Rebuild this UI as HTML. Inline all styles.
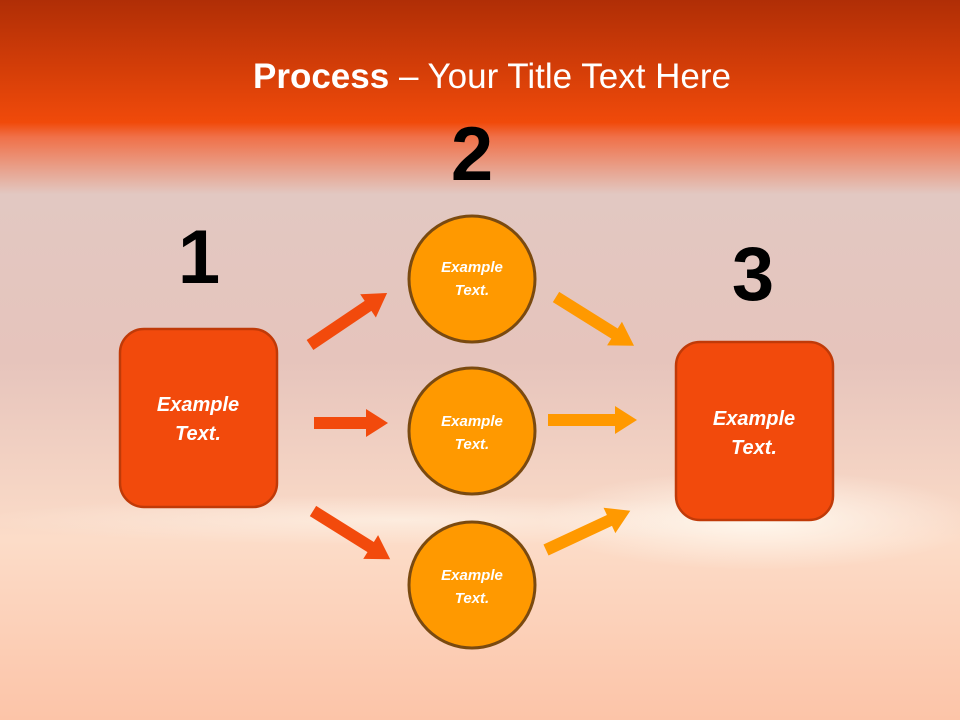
<!DOCTYPE html>
<html><head><style>body{margin:0}svg{display:block}</style></head><body>
<svg width="960" height="720" viewBox="0 0 960 720" xmlns="http://www.w3.org/2000/svg" font-family="Liberation Sans, sans-serif">
<defs>
<linearGradient id="bg" x1="0" y1="0" x2="0" y2="1">
<stop offset="0" stop-color="#b02e06"/>
<stop offset="0.17" stop-color="#f04a0a"/>
<stop offset="0.19" stop-color="#f07048"/>
<stop offset="0.27" stop-color="#e2c8c2"/>
<stop offset="0.5" stop-color="#e6c4bc"/>
<stop offset="0.75" stop-color="#fcdcc8"/>
<stop offset="1" stop-color="#fcc4a8"/>
</linearGradient>
<radialGradient id="glow" cx="0.5" cy="0.5" r="0.5">
<stop offset="0" stop-color="#fffaf0" stop-opacity="0.95"/>
<stop offset="1" stop-color="#fff8f0" stop-opacity="0"/>
</radialGradient>
</defs>
<rect width="960" height="720" fill="url(#bg)"/>
<ellipse cx="760" cy="520" rx="220" ry="50" fill="url(#glow)"/>
<ellipse cx="400" cy="520" rx="420" ry="25" fill="url(#glow)" opacity="0.6"/>
<text x="492" y="88" text-anchor="middle" fill="#fff" font-size="35"><tspan font-weight="bold">Process</tspan> – Your Title Text Here</text>
<g font-weight="bold" font-size="76" fill="#000" text-anchor="middle">
<text x="199" y="283">1</text><text x="472" y="180">2</text><text x="753" y="300">3</text>
</g>
<rect x="120" y="329" width="157" height="178" rx="24" fill="#f24a0c" stroke="#c03a08" stroke-width="2.5"/>
<rect x="676" y="342" width="157" height="178" rx="24" fill="#f24a0c" stroke="#c03a08" stroke-width="2.5"/>
<g fill="#ff9900" stroke="#7a4a10" stroke-width="3">
<circle cx="472" cy="279" r="63"/><circle cx="472" cy="431" r="63"/><circle cx="472" cy="585" r="63"/>
</g>
<g fill="#f24a0c">
<polygon points="0,-6 70,-6 70,-14 93,0 70,14 70,6 0,6" transform="translate(310,345) rotate(-34)"/>
<polygon points="0,-6 52,-6 52,-14 74,0 52,14 52,6 0,6" transform="translate(314,423)"/>
<polygon points="0,-6 68,-6 68,-14 91,0 68,14 68,6 0,6" transform="translate(313,511) rotate(32)"/>
</g>
<g fill="#ff9900">
<polygon points="0,-6 69,-6 69,-14 92,0 69,14 69,6 0,6" transform="translate(556,297) rotate(32)"/>
<polygon points="0,-6 67,-6 67,-14 89,0 67,14 67,6 0,6" transform="translate(548,420)"/>
<polygon points="0,-6 70,-6 70,-14 93,0 70,14 70,6 0,6" transform="translate(546,550) rotate(-25)"/>
</g>
<g fill="#fff" font-weight="bold" font-style="italic" text-anchor="middle">
<text x="198" y="411" font-size="20">Example</text><text x="198" y="440" font-size="20">Text.</text>
<text x="754" y="425" font-size="20">Example</text><text x="754" y="454" font-size="20">Text.</text>
<text x="472" y="272" font-size="15">Example</text><text x="472" y="295" font-size="15">Text.</text>
<text x="472" y="426" font-size="15">Example</text><text x="472" y="449" font-size="15">Text.</text>
<text x="472" y="580" font-size="15">Example</text><text x="472" y="603" font-size="15">Text.</text>
</g>
</svg>
</body></html>
